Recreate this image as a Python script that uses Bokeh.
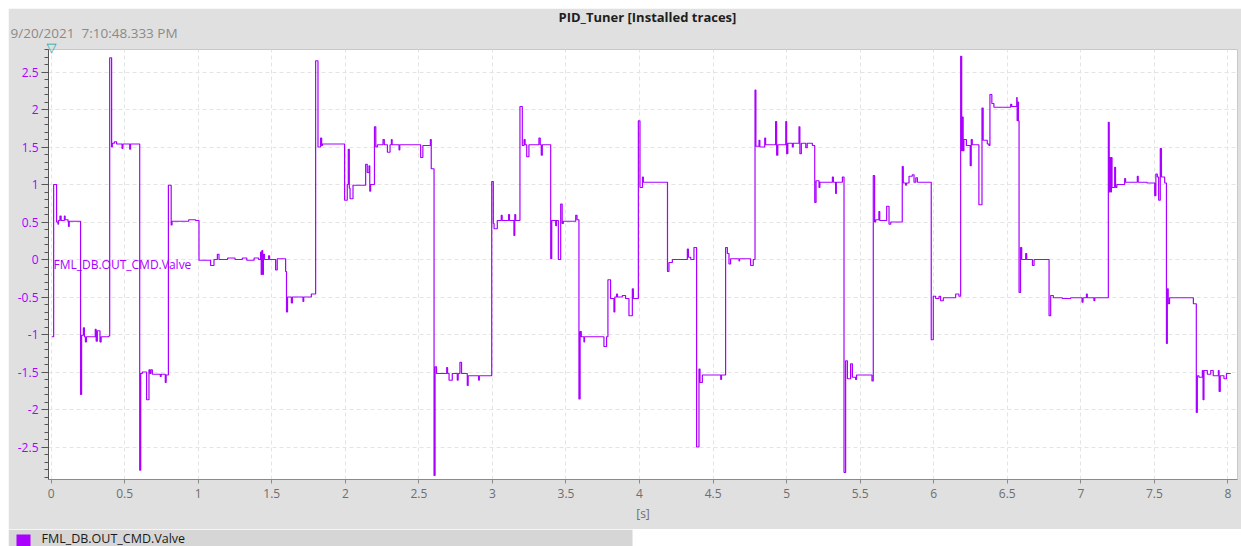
from bokeh.plotting import figure
from bokeh.models import FixedTicker, Label, Range1d, Title, BoxAnnotation
from bokeh.embed import file_html
from bokeh.resources import INLINE

# ---------------- data ----------------
chart_title = "PID_Tuner [Installed traces]"
timestamp = "9/20/2021\u00a0 7:10:48.333 PM"
series_name = "FML_DB.OUT_CMD.Valve"
x_label = "[s]"
cursor_mark = "\u25bd"

time_s = [
    0.005, 0.017, 0.037, 0.046, 0.050, 0.060, 0.068, 0.090, 0.095, 0.115, 0.118, 0.123,
    0.200, 0.207, 0.219, 0.226, 0.233, 0.240, 0.300, 0.306, 0.314, 0.332, 0.340, 0.392,
    0.398, 0.411, 0.416, 0.430, 0.445, 0.482, 0.488, 0.534, 0.540,
    0.602, 0.609, 0.620, 0.649, 0.665, 0.672, 0.678, 0.688, 0.742, 0.748, 0.776, 0.782,
    0.797, 0.816, 0.822, 0.935, 0.982,
    1.005, 1.084, 1.107, 1.130, 1.141, 1.200, 1.250, 1.300, 1.330, 1.380, 1.410, 1.424,
    1.428, 1.433, 1.438, 1.443, 1.450, 1.478, 1.485, 1.526, 1.537,
    1.594, 1.600, 1.607, 1.633, 1.640, 1.712, 1.717, 1.769,
    1.798, 1.814, 1.832, 1.839, 1.845,
    1.995, 2.013, 2.020, 2.027, 2.032, 2.052, 2.138, 2.149, 2.161, 2.166, 2.172,
    2.198, 2.207, 2.218, 2.256, 2.265, 2.286, 2.304, 2.313, 2.318, 2.365, 2.370, 2.512,
    2.527, 2.578, 2.584,
    2.603, 2.610, 2.620, 2.689, 2.695, 2.705, 2.727, 2.761, 2.767, 2.779, 2.790, 2.829,
    2.835, 2.906, 2.911,
    2.995, 3.006, 3.011, 3.033, 3.060, 3.066, 3.110, 3.116, 3.146, 3.152, 3.158,
    3.187, 3.203, 3.215, 3.222, 3.233, 3.248, 3.316, 3.325, 3.332, 3.339,
    3.396, 3.403, 3.430, 3.435, 3.448, 3.464, 3.474, 3.482, 3.566, 3.575,
    3.588, 3.596, 3.604, 3.622, 3.626, 3.758, 3.776,
    3.785, 3.803, 3.826, 3.832, 3.844, 3.850, 3.883, 3.905, 3.928, 3.951, 3.958,
    3.992, 4.003, 4.020, 4.026,
    4.190, 4.200, 4.223, 4.325, 4.332, 4.348, 4.370,
    4.388, 4.404, 4.411, 4.427, 4.552, 4.557,
    4.585, 4.597, 4.608, 4.619, 4.676, 4.680, 4.755, 4.773,
    4.785, 4.791, 4.812, 4.818, 4.851, 4.857, 4.925, 4.932, 4.940, 4.994, 5.000, 5.008,
    5.039, 5.045, 5.084, 5.090, 5.100, 5.130, 5.140, 5.175,
    5.191, 5.200, 5.220, 5.226, 5.311, 5.318, 5.333, 5.338, 5.379,
    5.390, 5.401, 5.413, 5.435, 5.447, 5.469, 5.475, 5.580,
    5.589, 5.598, 5.605, 5.627, 5.633, 5.680, 5.696, 5.708,
    5.786, 5.793, 5.809, 5.815, 5.832, 5.854, 5.866, 5.878, 5.889,
    5.983, 5.997, 6.013, 6.036, 6.047, 6.065, 6.149, 6.171,
    6.183, 6.190, 6.195, 6.200, 6.205, 6.222, 6.248, 6.255, 6.262, 6.307, 6.328, 6.336,
    6.364, 6.375, 6.382, 6.395, 6.409, 6.523, 6.530, 6.564, 6.567, 6.572, 6.576,
    6.580, 6.590, 6.598, 6.625, 6.632, 6.671, 6.682,
    6.784, 6.795, 6.813, 6.874, 6.931, 7.008, 7.015, 7.038, 7.044, 7.089, 7.095,
    7.187, 7.193, 7.198, 7.203, 7.208, 7.212, 7.230, 7.236, 7.245, 7.298, 7.304, 7.384,
    7.390, 7.450, 7.502, 7.510, 7.520, 7.529, 7.540, 7.548, 7.570,
    7.582, 7.588, 7.594, 7.603, 7.765,
    7.785, 7.792, 7.803, 7.826, 7.831, 7.837, 7.860, 7.883, 7.900, 7.935, 7.940, 7.948,
    7.973, 7.990, 8.019,
]

valve = [
    -1.03, 1.00, 0.50, 0.47, 0.52, 0.58, 0.52, 0.58, 0.53, 0.50, 0.44, 0.51,
    -1.80, -1.01, -0.91, -1.03, -1.10, -1.03, -0.93, -1.09, -0.95, -1.10, -1.03, -1.02,
    2.69, 1.50, 1.55, 1.57, 1.54, 1.48, 1.54, 1.47, 1.54,
    -2.81, -1.52, -1.50, -1.87, -1.47, -1.52, -1.47, -1.53, -1.56, -1.53, -1.64, -1.54,
    0.99, 0.46, 0.51, 0.53, 0.52,
    -0.01, -0.08, 0.00, 0.07, 0.00, 0.02, 0.00, 0.02, -0.01, 0.02, 0.00, 0.10,
    -0.20, 0.12, -0.20, 0.07, 0.00, 0.05, 0.00, -0.14, 0.01,
    -0.16, -0.70, -0.50, -0.58, -0.50, -0.56, -0.50, -0.46,
    2.65, 1.50, 1.62, 1.52, 1.54,
    0.79, 1.00, 1.47, 0.95, 0.81, 0.99, 1.27, 1.16, 1.25, 0.91, 1.00,
    1.77, 1.50, 1.53, 1.60, 1.53, 1.43, 1.53, 1.60, 1.53, 1.46, 1.53, 1.36,
    1.52, 1.60, 1.21,
    -2.88, -1.43, -1.52, -1.44, -1.52, -1.61, -1.52, -1.61, -1.52, -1.37, -1.52, -1.68,
    -1.55, -1.61, -1.55,
    1.04, 0.48, 0.41, 0.52, 0.59, 0.52, 0.60, 0.52, 0.32, 0.60, 0.52,
    2.04, 1.52, 1.60, 1.53, 1.37, 1.53, 1.62, 1.53, 1.39, 1.53,
    0.01, 0.52, 0.45, 0.52, 0.00, 0.74, 0.48, 0.51, 0.59, 0.53,
    -1.86, -0.96, -1.03, -1.10, -1.03, -1.16, -1.03,
    -0.27, -0.52, -0.70, -0.50, -0.46, -0.50, -0.48, -0.52, -0.75, -0.39, -0.52,
    1.85, 0.96, 1.10, 1.03,
    -0.16, -0.04, 0.00, 0.14, 0.03, 0.00, 0.16,
    -2.50, -1.46, -1.64, -1.54, -1.60, -1.54,
    0.16, 0.08, -0.06, 0.01, -0.02, 0.01, -0.08, 0.00,
    2.26, 1.51, 1.59, 1.50, 1.62, 1.53, 1.84, 1.39, 1.53, 1.84, 1.41, 1.55,
    1.50, 1.55, 1.77, 1.41, 1.55, 1.49, 1.55, 1.52,
    0.76, 1.05, 0.96, 1.03, 1.10, 1.03, 0.88, 1.03, 1.10,
    -2.84, -1.35, -1.59, -1.39, -1.57, -1.60, -1.54, -1.62,
    1.12, 0.50, 0.53, 0.64, 0.52, 0.71, 0.47, 0.50,
    1.24, 1.02, 0.99, 1.02, 1.11, 1.13, 1.03, 1.09, 1.03,
    -1.07, -0.49, -0.52, -0.49, -0.55, -0.51, -0.46, -0.49,
    2.71, 1.45, 1.90, 1.45, 1.60, 1.52, 1.25, 1.60, 1.53, 0.73, 2.02, 1.59,
    1.54, 1.52, 2.20, 2.08, 2.03, 2.07, 2.04, 2.16, 1.85, 2.10, 1.85,
    -0.44, 0.16, 0.00, 0.08, 0.00, -0.08, 0.00,
    -0.75, -0.48, -0.51, -0.52, -0.51, -0.57, -0.51, -0.46, -0.51, -0.55, -0.51,
    1.83, 0.90, 1.36, 0.90, 1.36, 0.96, 1.23, 0.96, 1.00, 1.08, 1.03, 1.11,
    1.03, 1.02, 0.85, 1.14, 1.10, 0.79, 1.48, 1.10, 1.02,
    -1.12, -0.39, -0.59, -0.51, -0.59,
    -2.04, -1.55, -1.57, -1.48, -1.87, -1.48, -1.53, -1.48, -1.55, -1.48, -1.76, -1.55,
    -1.59, -1.52, -1.52,
]

x_ticks = [0.0, 0.5, 1.0, 1.5, 2.0, 2.5, 3.0, 3.5, 4.0, 4.5, 5.0, 5.5, 6.0, 6.5, 7.0, 7.5, 8.0]
x_tick_labels = ["0", "0.5", "1", "1.5", "2", "2.5", "3", "3.5", "4", "4.5", "5", "5.5",
                 "6", "6.5", "7", "7.5", "8"]
y_ticks = [-2.5, -2.0, -1.5, -1.0, -0.5, 0.0, 0.5, 1.0, 1.5, 2.0, 2.5]
y_tick_labels = ["-2.5", "-2", "-1.5", "-1", "-0.5", "0", "0.5", "1", "1.5", "2", "2.5"]

# ---------------- styling ----------------
PURPLE = "#aa00ff"
PANEL = "#e0e0e0"
FONT = "Open Sans"

p = figure(width=1233, height=521,
           x_range=Range1d(-0.018, 8.065), y_range=Range1d(-2.933, 2.8),
           output_backend="svg", toolbar_location=None,
           min_border_left=40, min_border_right=4, min_border_top=41, min_border_bottom=50,
           border_fill_color=PANEL, background_fill_color="white",
           outline_line_color="#c8c8c8")
p.margin = (8, 0, 0, 8)

p.step(time_s, valve, mode="after", line_color=PURPLE, line_width=1.2)

minor_y = [round(-2.9 + 0.1 * i, 1) for i in range(58)]
p.xaxis.ticker = FixedTicker(ticks=x_ticks, minor_ticks=[])
p.yaxis.ticker = FixedTicker(ticks=y_ticks, minor_ticks=minor_y)
p.xaxis.major_label_overrides = dict(zip(x_ticks, x_tick_labels))
p.yaxis.major_label_overrides = dict(zip(y_ticks, y_tick_labels))

p.grid.grid_line_color = "#e4e4e4"
p.grid.grid_line_dash = "4 3"

p.yaxis.axis_line_color = "#555555"
p.yaxis.major_tick_line_color = "#555555"
p.yaxis.minor_tick_line_color = "#555555"
p.yaxis.major_tick_out = 7
p.yaxis.major_tick_in = 0
p.yaxis.minor_tick_out = 4
p.yaxis.minor_tick_in = 0
p.yaxis.major_label_standoff = 3
p.yaxis.major_label_text_color = PURPLE
p.yaxis.major_label_text_font = FONT
p.yaxis.major_label_text_font_size = "12px"

p.xaxis.axis_line_color = "#8a8a8a"
p.xaxis.major_tick_line_color = "#8a8a8a"
p.xaxis.major_tick_out = 4
p.xaxis.major_tick_in = 0
p.xaxis.minor_tick_line_color = None
p.xaxis.major_label_standoff = 5
p.xaxis.major_label_text_color = "#6e6e6e"
p.xaxis.major_label_text_font = FONT
p.xaxis.major_label_text_font_size = "12px"
p.xaxis.axis_label = x_label
p.xaxis.axis_label_text_font = FONT
p.xaxis.axis_label_text_font_size = "12px"
p.xaxis.axis_label_text_font_style = "normal"
p.xaxis.axis_label_text_color = "#6e6e6e"
p.xaxis.axis_label_standoff = 4

# header: chart title (outermost), timestamp, cursor marker (next to the frame)
p.title.text = chart_title
p.title.align = "left"
p.title.offset = 510
p.title.standoff = -11.2
p.title.text_font = FONT
p.title.text_font_size = "13px"
p.title.text_font_style = "bold"
p.title.text_color = "#1e1e1e"

p.add_layout(Title(text=cursor_mark, align="left", offset=-2, standoff=-10.2,
                   text_font="DejaVu Sans", text_font_size="13px", text_font_style="normal",
                   text_color="#1aa3a3"), "above")
p.add_layout(Title(text=timestamp, align="left", offset=-38, standoff=1.6,
                   text_font=FONT, text_font_size="13.5px", text_font_style="normal",
                   text_color="#8a8a8a"), "above")

# series label inside plot area
p.add_layout(Label(x=5, y=215, x_units="screen", y_units="screen", text=series_name,
                   text_align="left", text_baseline="middle", text_font=FONT,
                   text_font_size="12px", text_color=PURPLE))

# ---------------- legend strip (second root, below the chart) ----------------
leg = figure(width=1233, height=17, x_range=Range1d(0, 1233), y_range=Range1d(0, 17),
             output_backend="svg", toolbar_location=None, min_border=0,
             x_axis_type=None, y_axis_type=None,
             background_fill_color="white", border_fill_color="white",
             outline_line_color=None)
leg.margin = (0, 0, 0, 8)
leg.grid.visible = False
leg.add_layout(BoxAnnotation(left=0, right=624, bottom=0, top=17, fill_color="#d6d6d6",
                             fill_alpha=1, line_color=None))
leg.add_layout(BoxAnnotation(left=8, right=22, bottom=-2, top=12, fill_color=PURPLE,
                             fill_alpha=1, line_color=None))
leg.add_layout(Label(x=33, y=8, text=series_name, text_align="left",
                     text_baseline="middle", text_font=FONT, text_font_size="12.5px",
                     text_color="#1a1a1a"))

open("out.html", "w").write(file_html([p, leg], INLINE))
